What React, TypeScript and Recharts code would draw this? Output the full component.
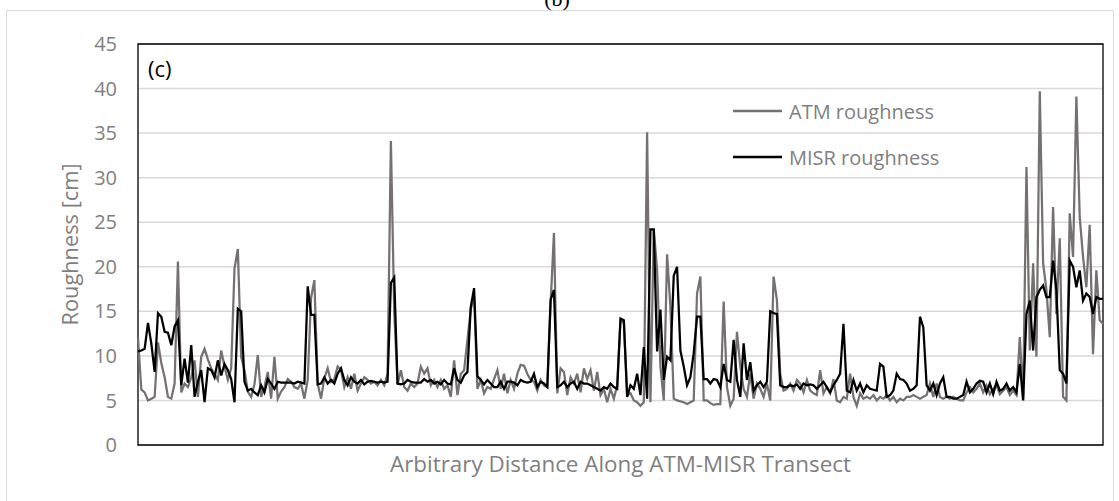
import React from 'react';
import {
  LineChart,
  Line,
  XAxis,
  YAxis,
  CartesianGrid,
  ReferenceArea,
  Legend,
} from 'recharts';

// values, one per sample along the transect
const atmRoughness = [
  12, 6.2, 5.9, 5.0, 5.2, 5.4, 11.5, 9.2, 7.6, 5.4,
  5.2, 6.9, 20.6, 5.9, 6.9, 6.5, 7.6, 9.5, 5.4, 9.9,
  10.8, 9.6, 8.6, 8.0, 7.3, 10.6, 8.8, 7.3, 8.6, 19.8,
  22.0, 9.9, 8.4, 6.0, 5.4, 6.8, 10.1, 5.4, 6.5, 8.2,
  5.2, 9.9, 5.2, 6.0, 6.5, 7.4, 7.1, 6.5, 6.3, 6.9,
  5.2, 7.3, 16.5, 18.5, 6.9, 5.2, 7.5, 8.6,
  7.1, 7.4, 8.8, 8.4, 6.5, 7.6, 6.3, 8.0, 6.1, 6.9,
  7.6, 7.3, 6.9, 7.1, 6.7, 7.3, 6.7, 8.0, 34.1, 15.0,
  6.8, 8.4, 6.5, 6.1, 6.9, 6.5, 6.9, 8.8, 8.0, 8.6,
  6.7, 7.3, 6.5, 7.3, 6.3, 6.7, 5.4, 9.5, 5.6, 8.0,
  8.4, 11.8, 15.2, 16.7, 6.3, 7.3, 5.8, 6.5, 6.3, 7.4,
  8.4, 6.3, 8.0, 5.8, 7.3, 6.3, 8.0, 9.0,
  8.9, 8.0, 7.3, 7.1, 6.1, 7.3, 6.7, 6.5, 15.9, 23.8,
  5.8, 8.6, 8.2, 5.6, 7.6, 6.9, 8.0, 5.9, 8.6, 7.4,
  8.4, 6.1, 8.2, 5.6, 6.3, 4.8, 6.3, 5.2, 6.7, 14.0,
  13.8, 5.6, 5.8, 5.0, 4.8, 4.4, 4.8, 35.1, 4.8, 24.2,
  19.7, 8.8, 5.0, 21.4, 15.5, 5.2, 5.0, 4.9, 4.8, 4.6,
  4.8, 5.0, 17.0, 18.9, 5.0, 5.0, 4.7, 4.5,
  4.6, 4.6, 16.1, 6.5, 4.4, 5.2, 12.7, 8.8, 6.3, 5.4,
  8.0, 5.2, 6.9, 6.3, 5.4, 6.9, 5.0, 18.9, 16.3, 8.0,
  6.1, 6.3, 6.9, 6.1, 7.3, 6.9, 5.9, 7.3, 6.1, 5.8,
  5.6, 8.4, 5.8, 6.5, 5.8, 7.4, 5.0, 4.8, 5.4, 5.2,
  8.0, 5.4, 4.4, 5.8, 5.2, 5.4, 5.2, 5.6, 5.0, 5.4,
  5.2, 5.6, 5.0, 5.4, 4.8, 5.2, 5.0, 5.4,
  5.4, 5.6, 5.4, 5.2, 5.4, 5.6, 6.9, 5.4, 6.9, 5.4,
  5.2, 5.4, 5.2, 5.4, 5.2, 5.0, 5.0, 5.9, 6.5, 5.9,
  6.3, 6.9, 5.9, 6.7, 5.7, 6.3, 6.7, 5.7, 6.1, 6.5,
  5.6, 6.1, 5.6, 12.1, 5.2, 31.2, 10.6, 20.4, 9.9, 39.7,
  20.4, 17.4, 12.1, 26.7, 14.7, 23.2, 5.4, 5.0, 26.0, 21.1,
  39.1, 25.6, 21.1, 17.7, 24.7, 10.2, 19.6, 14.0, 13.6,
];

const misrRoughness = [
  10.5, 10.6, 10.8, 13.7, 11.4, 8.2, 14.8, 14.4, 12.7, 12.6,
  11.2, 13.3, 14.0, 6.7, 9.7, 7.0, 11.2, 5.4, 7.1, 8.4,
  4.8, 8.6, 8.4, 7.6, 9.5, 7.8, 9.1, 8.4, 7.4, 4.8,
  15.3, 15.0, 7.1, 6.1, 6.3, 5.9, 5.6, 6.7, 5.9, 7.4,
  6.9, 6.3, 7.1, 7.0, 7.0, 7.0, 7.0, 6.9, 7.1, 7.0,
  6.9, 17.8, 14.6, 14.6, 6.8, 6.9, 7.6, 6.9,
  7.3, 6.9, 8.0, 8.6, 7.3, 6.7, 7.6, 7.1, 6.9, 7.3,
  6.8, 7.1, 7.2, 7.1, 7.0, 7.1, 7.0, 7.1, 18.2, 18.8,
  6.9, 6.8, 6.9, 7.3, 7.1, 7.0, 7.0, 7.0, 7.4, 7.1,
  7.3, 6.9, 7.1, 6.8, 7.3, 6.9, 6.8, 8.6, 7.3, 7.0,
  7.8, 8.2, 15.5, 17.6, 7.7, 7.3, 6.8, 7.3, 6.9, 6.5,
  6.5, 7.1, 6.3, 7.1, 7.1, 7.0, 6.7, 7.3,
  7.1, 7.0, 7.1, 8.0, 6.5, 7.1, 6.9, 6.5, 16.3, 17.4,
  6.5, 6.7, 7.1, 6.5, 6.9, 7.1, 6.3, 7.1, 6.9, 6.9,
  6.7, 6.5, 6.3, 6.1, 6.5, 6.3, 6.9, 6.5, 6.3, 14.2,
  14.0, 5.4, 6.7, 6.3, 8.0, 5.6, 11.0, 5.2, 24.2, 24.2,
  10.5, 15.2, 7.3, 9.9, 9.5, 19.0, 20.0, 10.6, 8.8, 6.7,
  7.6, 10.3, 14.4, 14.4, 7.4, 7.4, 6.9, 7.4,
  7.3, 6.5, 9.1, 7.3, 7.1, 11.8, 7.3, 5.4, 11.4, 7.3,
  9.3, 6.1, 6.7, 7.1, 6.5, 7.1, 15.0, 14.8, 14.7, 6.7,
  6.5, 6.5, 6.7, 6.6, 6.8, 6.3, 6.9, 6.7, 6.8, 6.7,
  6.3, 6.7, 7.1, 6.5, 5.9, 6.7, 7.3, 8.0, 13.6, 6.1,
  5.9, 7.3, 6.1, 6.9, 5.9, 6.7, 6.3, 6.2, 6.1, 9.1,
  8.8, 5.4, 5.6, 6.1, 8.0, 7.4, 7.3, 6.9,
  6.1, 6.3, 6.7, 14.4, 13.2, 6.7, 6.1, 6.9, 5.6, 6.9,
  7.6, 5.4, 5.4, 5.2, 5.2, 5.4, 5.6, 7.1, 5.9, 6.3,
  6.9, 7.2, 7.1, 5.9, 6.9, 5.7, 7.1, 6.1, 6.3, 6.9,
  6.1, 6.5, 5.9, 9.1, 5.0, 14.7, 16.2, 10.6, 16.6, 17.4,
  17.9, 16.6, 16.6, 20.7, 17.4, 8.4, 8.0, 6.9, 20.7, 20.0,
  17.7, 19.6, 16.2, 17.0, 16.6, 14.7, 16.6, 16.4, 16.4,
];

const yTicks = [0, 5, 10, 15, 20, 25, 30, 35, 40, 45];

const seriesNames = ['ATM roughness', 'MISR roughness'];
const seriesColors = ['#767171', '#000000'];

const data = atmRoughness.map((atm, i) => ({
  i,
  atm,
  misr: misrRoughness[i],
}));

const font = "'Open Sans', sans-serif";
const gray = '#7f7f7f';

const renderLegend = () => (
  <div style={{ fontFamily: font, fontSize: 20, color: gray }}>
    {seriesNames.map((name, idx) => (
      <div
        key={name}
        style={{ display: 'flex', alignItems: 'center', height: 46 }}
      >
        <svg width={49} height={4}>
          <line
            x1={0}
            y1={2}
            x2={49}
            y2={2}
            stroke={seriesColors[idx]}
            strokeWidth={2.5}
          />
        </svg>
        <span style={{ marginLeft: 7 }}>{name}</span>
      </div>
    ))}
  </div>
);

const App: React.FC = () => {
  return (
    <div
      style={{
        position: 'absolute',
        left: 0,
        top: 0,
        width: 1119,
        height: 501,
        overflow: 'hidden',
        background: '#fff',
      }}
    >
      <div
        style={{
          position: 'absolute',
          left: 6,
          top: 10,
          width: 1106,
          height: 600,
          border: '1px solid #d9d9d9',
        }}
      />
      <div
        style={{
          position: 'absolute',
          left: 540,
          top: -12,
          width: 34,
          textAlign: 'center',
          fontFamily: "'Liberation Serif', serif",
          fontSize: 22,
          lineHeight: 1,
        }}
      >
        (b)
      </div>
      <LineChart
        width={1119}
        height={501}
        data={data}
        margin={{ top: 44, right: 16, bottom: 0, left: 58 }}
      >
        <CartesianGrid vertical={false} stroke="#d9d9d9" strokeWidth={1.5} />
        <XAxis
          dataKey="i"
          type="number"
          domain={[0, atmRoughness.length - 1]}
          tick={false}
          tickLine={false}
          axisLine={false}
          height={56}
          label={{
            value: 'Arbitrary Distance Along ATM-MISR Transect',
            position: 'insideBottom',
            offset: 29,
            fill: gray,
            fontSize: 22.4,
            fontFamily: font,
          }}
        />
        <YAxis
          domain={[0, 45]}
          ticks={yTicks}
          width={80}
          axisLine={false}
          tickLine={false}
          tickMargin={15}
          tick={{ fill: gray, fontSize: 20, fontFamily: font }}
          label={{
            value: 'Roughness [cm]',
            angle: -90,
            position: 'insideLeft',
            offset: 12,
            textAnchor: 'middle',
            fill: gray,
            fontSize: 21.8,
            fontFamily: font,
          }}
        />
        <Line
          type="linear"
          dataKey="atm"
          name={seriesNames[0]}
          stroke={seriesColors[0]}
          strokeWidth={2.25}
          dot={false}
          isAnimationActive={false}
        />
        <Line
          type="linear"
          dataKey="misr"
          name={seriesNames[1]}
          stroke={seriesColors[1]}
          strokeWidth={2.25}
          dot={false}
          isAnimationActive={false}
        />
        <ReferenceArea
          x1={0}
          x2={atmRoughness.length - 1}
          y1={0}
          y2={45}
          fill="none"
          fillOpacity={0}
          stroke="#000"
          strokeWidth={1.3}
          ifOverflow="visible"
        />
        <Legend
          layout="vertical"
          align="center"
          verticalAlign="middle"
          content={renderLegend}
          wrapperStyle={{ left: 733, top: 88, width: 'auto' }}
        />
      </LineChart>
      <div
        style={{
          position: 'absolute',
          left: 148,
          top: 57,
          fontFamily: font,
          fontSize: 22,
          lineHeight: 1,
          color: '#000',
        }}
      >
        (c)
      </div>
    </div>
  );
};

export default App;
